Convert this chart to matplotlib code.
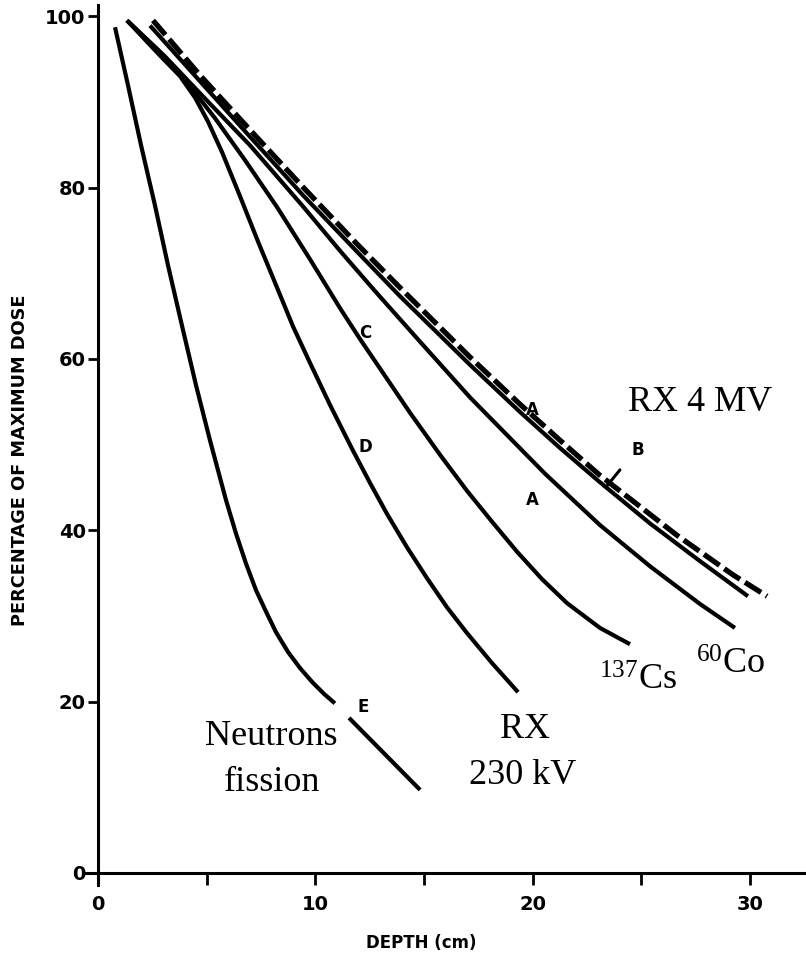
import matplotlib
matplotlib.use("Agg")
import matplotlib.pyplot as plt
import numpy as np
from matplotlib import font_manager

# ---------------- data (depth in cm, percentage of maximum dose) ----------------
neutron_x = [0.78, 1.38, 1.98, 2.62, 3.22, 3.86, 4.51, 5.15, 5.89, 6.35, 6.81, 7.27, 7.73,
             8.19, 8.74, 9.30, 9.85, 10.40, 10.90, np.nan, 11.55, 14.82]
neutron_y = [98.7, 91.9, 84.9, 77.9, 70.9, 63.9, 56.9, 50.5, 43.5, 39.6, 36.1, 33.0, 30.5,
             28.1, 25.8, 23.9, 22.3, 20.9, 19.8, np.nan, 18.1, 9.7]

rx230_x = [1.33, 2.85, 3.77, 4.46, 5.06, 5.71, 6.53, 7.36, 8.24, 8.97, 9.76, 10.68, 11.69,
           12.52, 13.30, 14.22, 15.14, 16.06, 16.98, 18.13, 19.33]
rx230_y = [99.5, 95.4, 93.0, 90.5, 87.7, 84.1, 79.0, 73.7, 68.3, 63.8, 59.5, 54.6, 49.5,
           45.5, 41.9, 38.0, 34.4, 31.0, 28.0, 24.5, 21.1]

cs_x = [1.33, 2.85, 4.23, 5.38, 6.76, 8.24, 9.76, 11.14, 12.06, 13.21, 14.36, 15.74, 16.98,
        18.13, 19.28, 20.43, 21.58, 23.10, 24.48]
cs_y = [99.5, 95.8, 91.8, 88.1, 83.2, 77.7, 71.6, 65.9, 62.3, 58.0, 53.7, 48.8, 44.6,
        41.0, 37.5, 34.3, 31.5, 28.6, 26.7]

co_x = [1.33, 3.08, 4.69, 7.00, 9.43, 11.14, 12.75, 14.82, 17.12, 20.57, 23.10, 25.40, 27.70, 29.31]
co_y = [99.5, 95.3, 91.0, 84.9, 77.8, 72.6, 67.9, 62.0, 55.5, 46.6, 40.6, 35.8, 31.4, 28.6]

mv4a_x = [2.39, 4.69, 7.00, 9.43, 11.92, 13.90, 17.12, 19.42, 21.26, 23.10, 25.40, 27.70, 29.91]
mv4a_y = [98.9, 92.4, 85.9, 79.1, 72.5, 67.3, 59.3, 53.8, 49.6, 45.6, 40.8, 36.4, 32.3]

mv4b_x = [2.53, 4.69, 7.00, 9.43, 11.92, 13.90, 17.12, 19.42, 21.26, 23.10, 24.62, 26.65, 29.22, 30.79]
mv4b_y = [99.5, 93.1, 86.7, 80.05, 73.4, 68.3, 60.2, 54.7, 50.5, 46.4, 43.4, 39.4, 34.8, 32.3]

x_major = [0, 10, 20, 30]
x_minor = [5, 15, 25]
y_major = [0, 20, 40, 60, 80, 100]

# ---------------- fonts ----------------
names = {f.name for f in font_manager.fontManager.ttflist}
narrow = "Liberation Sans Narrow" if "Liberation Sans Narrow" in names else "DejaVu Sans"
serif = "Liberation Serif"
plt.rcParams["mathtext.fontset"] = "custom"
plt.rcParams["mathtext.rm"] = serif
plt.rcParams["mathtext.it"] = serif

fig = plt.figure(figsize=(8.06, 9.61), dpi=100)
ax = fig.add_axes([0.1055, 0.0791, 0.895, 0.9157])
ax.set_xlim(-0.6, 32.6)
ax.set_ylim(-1.4, 101.3)

lw = 3.0
kw = dict(color="black", lw=lw, solid_capstyle="butt", solid_joinstyle="round")
ax.plot(neutron_x, neutron_y, **kw)
ax.plot(rx230_x, rx230_y, **kw)
ax.plot(cs_x, cs_y, **kw)
ax.plot(co_x, co_y, **kw)
ax.plot(mv4a_x, mv4a_y, **kw)
ax.plot(mv4b_x, mv4b_y, color="black", lw=3.8, dashes=(3.6, 1.1), dash_capstyle="butt",
        dash_joinstyle="round")

# spines
for s in ["top", "right"]:
    ax.spines[s].set_visible(False)
ax.spines["left"].set_position(("data", 0))
ax.spines["bottom"].set_position(("data", 0))
for s in ["left", "bottom"]:
    ax.spines[s].set_linewidth(2.2)

ax.set_xticks(x_major)
ax.set_xticks(x_minor, minor=True)
ax.set_yticks(y_major)
ax.tick_params(axis="x", which="both", direction="out", length=8.5, width=2.0, pad=7)
ax.tick_params(axis="y", which="both", direction="out", length=7, width=2.0, pad=2)
for lab in ax.get_xticklabels() + ax.get_yticklabels():
    lab.set_fontfamily(narrow)
    lab.set_fontweight("bold")
    lab.set_fontsize(14)

fig.text(20 / 806, 1 - 460 / 961, "PERCENTAGE OF MAXIMUM DOSE", rotation=90,
         ha="center", va="center", fontsize=12.8, fontweight="bold", family=narrow)
fig.text(421 / 806, 1 - 943 / 961, "DEPTH (cm)", ha="center", va="center",
         fontsize=12, fontweight="bold", family=narrow)

# curve letters
lk = dict(fontsize=12, fontweight="bold", family=narrow, ha="center", va="center")
ax.text(20.0, 54.0, "A", **lk)
ax.text(20.0, 43.5, "A", **lk)
ax.text(24.85, 49.4, "B", **lk)
ax.text(12.29, 63.0, "C", **lk)
ax.text(12.29, 49.7, "D", **lk)
ax.text(12.2, 19.4, "E", **lk)
ax.annotate("", xy=(23.33, 44.9), xytext=(24.1, 47.3),
            arrowprops=dict(arrowstyle="-", lw=2.2, color="black"))

# big serif labels
sk = dict(fontsize=26, family=serif, ha="center")
ax.text(27.70, 54.96, "RX 4 MV", va="center", **sk)
ax.text(24.85, 21.35, r"$^{137}$Cs", va="baseline", **sk)
ax.text(29.10, 23.30, r"$^{60}$Co", va="baseline", **sk)
ax.text(7.96, 15.9, "Neutrons", va="center", **sk)
ax.text(8.0, 10.6, "fission", va="center", **sk)
ax.text(19.65, 16.7, "RX", va="center", **sk)
ax.text(19.56, 11.4, "230 kV", va="center", **sk)

fig.savefig("out.png", dpi=100)
